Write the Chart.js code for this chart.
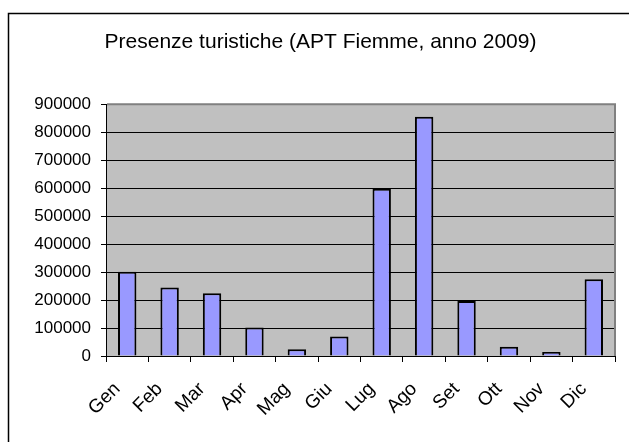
<!DOCTYPE html>
<html>
<head>
<meta charset="utf-8">
<title>Presenze turistiche</title>
<script src="https://cdn.jsdelivr.net/npm/chart.js@4"></script>
<style>
    html, body { margin: 0; padding: 0; background: #fff; }
    #wrap { position: relative; width: 629px; height: 442px; }
</style>
</head>
<body>
<div id="wrap"><canvas id="chart" width="629" height="442"></canvas></div>
<script>
// --- data ---
const TITLE = 'Presenze turistiche (APT Fiemme, anno 2009)';
const MONTHS = ['Gen', 'Feb', 'Mar', 'Apr', 'Mag', 'Giu', 'Lug', 'Ago', 'Set', 'Ott', 'Nov', 'Dic'];
const PRESENZE = [301000, 245000, 224000, 102000, 24000, 70000, 598000, 855000, 197000, 33000, 14000, 274000];
const Y_MAX = 900000;
const Y_STEP = 100000;

// --- colours ---
const BAR_FILL = '#9999FF';
const PLOT_BG = '#C0C0C0';
const PLOT_EDGE = '#808080';
const FONT = "'Liberation Sans', Arial, sans-serif";

// outer frame + grey plot background (like the old Excel chart)
const frame = {
    id: 'frame',
    beforeDraw(chart) {
        const c = chart.ctx;
        const a = chart.chartArea;
        c.save();
        c.fillStyle = '#fff';
        c.fillRect(0, 0, chart.width, chart.height);
        c.strokeStyle = '#000';
        c.lineWidth = 1.5;
        c.strokeRect(8.5, 13.5, 800, 800);
        c.fillStyle = PLOT_BG;
        c.fillRect(a.left, a.top, a.right - a.left, a.bottom - a.top);
        c.restore();
    },
    afterDraw(chart) {
        const c = chart.ctx;
        const a = chart.chartArea;
        c.save();
        c.strokeStyle = PLOT_EDGE;
        c.lineWidth = 2;
        c.beginPath();
        c.moveTo(a.left + 1, a.top);
        c.lineTo(a.right, a.top);
        c.lineTo(a.right, a.bottom);
        c.stroke();
        c.restore();
    }
};

new Chart(document.getElementById('chart'), {
    type: 'bar',
    data: {
        labels: MONTHS,
        datasets: [{
            data: PRESENZE,
            backgroundColor: BAR_FILL,
            borderColor: '#000',
            borderWidth: 2,
            barPercentage: 0.434,
            categoryPercentage: 1
        }]
    },
    plugins: [frame],
    options: {
        responsive: false,
        animation: false,
        devicePixelRatio: 1,
        layout: { padding: { left: 26, right: 14, top: 0, bottom: 0 } },
        plugins: {
            legend: { display: false },
            tooltip: { enabled: false },
            title: {
                display: true,
                text: TITLE,
                color: '#000',
                font: { family: FONT, size: 21, weight: 'normal' },
                padding: { top: 30, bottom: 49 }
            }
        },
        scales: {
            x: {
                grid: {
                    offset: true,
                    drawOnChartArea: false,
                    color: '#000',
                    tickLength: 6
                },
                border: { color: '#000', width: 1 },
                ticks: {
                    color: '#000',
                    font: { family: FONT, size: 19 },
                    minRotation: 45,
                    maxRotation: 45,
                    padding: 16,
                    labelOffset: -10
                },
                afterFit(scale) { scale.height = 86; }
            },
            y: {
                min: 0,
                max: Y_MAX,
                grid: { color: '#000', tickLength: 5 },
                border: { color: '#000', width: 1 },
                ticks: {
                    stepSize: Y_STEP,
                    color: '#000',
                    padding: 10,
                    font: { family: FONT, size: 17 },
                    callback: v => String(v)
                },
                afterFit(scale) { scale.width = 80; }
            }
        }
    }
});
</script>
</body>
</html>
